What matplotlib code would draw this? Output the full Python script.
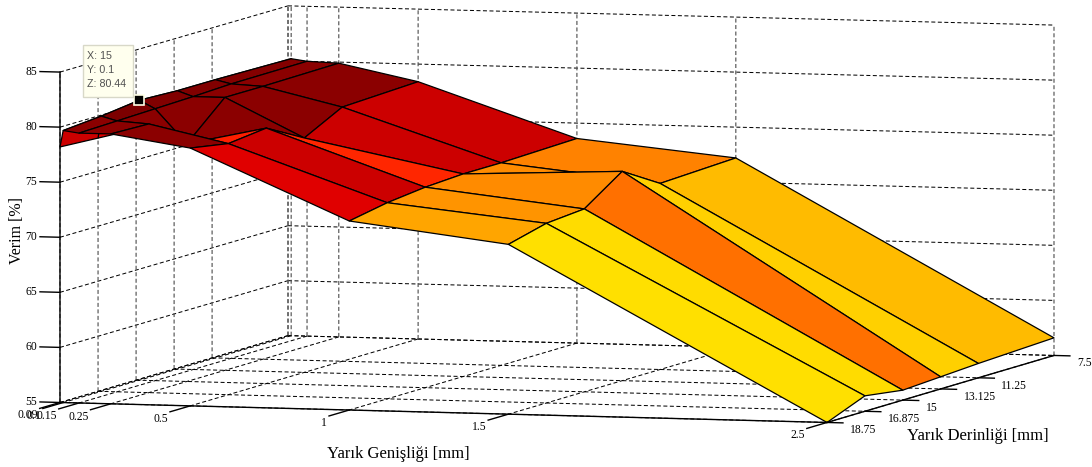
#Verim surface, Yarik Genisligi vs Yarik Derinligi
import numpy as np
import matplotlib
matplotlib.use('Agg')
import matplotlib.pyplot as plt
from matplotlib.colors import LinearSegmentedColormap
from matplotlib.patches import Rectangle

W, H = 1092, 467

derinlik = [7.5, 11.25, 13.125, 15, 16.875, 18.75] #x axis
genislik = [0.09, 0.1, 0.15, 0.25, 0.5, 1, 1.5, 2.5] #y axis
z_ticks = [55, 60, 65, 70, 75, 80, 85]
derinlik_labels = ['7.5', '11.25', '13.125', '15', '16.875', '18.75']
genislik_labels = ['0.09', '0.1', '0.15', '0.25', '0.5', '1', '1.5', '2.5']

#rows follow genislik, columns follow derinlik
verim = np.array([
    [77.4, 77.6, 77.7, 77.8, 78.0, 78.2],
    [80.2, 80.3, 80.3, 80.44, 80.0, 79.7],
    [80.0, 79.95, 79.8, 79.7, 79.6, 79.5],
    [79.9, 79.8, 79.8, 76.6, 79.4, 79.5],
    [78.4, 78.1, 76.3, 78.2, 77.8, 78.4],
    [73.6, 73.4, 73.4, 73.2, 72.8, 72.15],
    [72.2, 71.9, 74.0, 71.6, 71.3, 70.4],
    [56.6, 56.3, 56.1, 55.9, 56.4, 55.0],
])

#colour stops of the surface (verim value, colour)
cmap_z = [71.2, 71.6, 71.9, 72.2, 72.8, 73.3, 74.0, 76.5, 77.8, 78.0, 78.5, 79.2, 80.0, 80.5]
cmap_c = ['#FFE200', '#FFDC00', '#FFD000', '#FFBB00', '#FFA500', '#FF9000', '#FF7000',
          '#FF2000', '#E00000', '#CC0000', '#CC0000', '#8B0000', '#8B0000', '#7A0000']

x0, x1 = derinlik[0], derinlik[-1]
y0, y1 = genislik[0], genislik[-1]
z0, z1 = z_ticks[0], z_ticks[-1]

#box corners and where they sit in the picture, used to fit the camera
world = [(x1, y0, z0), (x0, y0, z0), (x0, y1, z0), (x1, y1, z0),
         (x1, y0, z1), (x0, y0, z1), (x0, y1, z1)]
pixel = [(60, 403), (288, 335), (1054, 356), (827, 422),
         (60, 72), (288, 6), (1054, 25)]

def fit_camera(world, pixel):
    '''3x4 projection matrix from point pairs (least squares, last entry 1).'''
    A, b = [], []
    for (x, y, z), (u, v) in zip(world, pixel):
        A.append([x, y, z, 1, 0, 0, 0, 0, -u*x, -u*y, -u*z])
        A.append([0, 0, 0, 0, x, y, z, 1, -v*x, -v*y, -v*z])
        b += [u, v]
    p = np.linalg.lstsq(np.array(A, float), np.array(b, float), rcond=None)[0]
    return np.append(p, 1).reshape(3, 4)

P = fit_camera(world, pixel)

def project(x, y, z):
    u, v, w = P @ [x, y, z, 1]
    return u/w, v/w

def fx(px): return px / W
def fy(py): return 1 - py / H

plt.rcParams['font.family'] = ['Liberation Serif', 'DejaVu Serif']
fig = plt.figure(figsize=(W/100, H/100), dpi=100)
ax = fig.add_axes([0, 0, 1, 1], projection='3d')
ax.set_axis_off()
ax.computed_zorder = False

grid = dict(color='black', lw=0.72, ls=(0, (4, 2.5)), zorder=1)
grid_v = dict(color='#555555', lw=0.85, ls=(0, (3.4, 2.1)), zorder=1) #verticals look greyer
solid = dict(color='black', lw=1.0, zorder=3)

for z in z_ticks:
    ax.plot([x1, x0], [y0, y0], [z, z], **grid) #left wall
    ax.plot([x0, x0], [y0, y1], [z, z], **grid) #back wall
for x in derinlik:
    ax.plot([x, x], [y0, y0], [z0, z1], **grid_v)
    ax.plot([x, x], [y0, y1], [z0, z0], **grid)
for y in genislik:
    ax.plot([x0, x0], [y, y], [z0, z1], **grid_v)
    ax.plot([x0, x1], [y, y], [z0, z0], **grid)

XX, YY = np.meshgrid(derinlik, genislik)
stops = (np.array(cmap_z) - cmap_z[0]) / (cmap_z[-1] - cmap_z[0])
cmap = LinearSegmentedColormap.from_list('verim', list(zip(stops, cmap_c)), N=1024)
face = cmap((verim - cmap_z[0]) / (cmap_z[-1] - cmap_z[0]))
surf = ax.plot_surface(XX, YY, verim, facecolors=face, shade=False,
                       rstride=1, cstride=1, zorder=2)
surf.set_edgecolor('black')
surf.set_linewidth(0.9)

#axis lines and ticks, labels go on the figure at the projected tick position
ax.plot([x1, x1], [y0, y0], [z0, z1], **solid)
ax.plot([x1, x1], [y0, y1], [z0, z0], **solid)
ax.plot([x1, x0], [y1, y1], [z0, z0], **solid)
for z in z_ticks:
    ax.plot([x1, x1], [y0, y0 - 0.063], [z, z], **solid)
    u, v = project(x1, y0, z)
    fig.text(fx(u - 23), fy(v), str(z), ha='right', va='center', fontsize=8.4)
for y, lab in zip(genislik, genislik_labels):
    ax.plot([x1, x1 + 1.0], [y, y], [z0, z0], **solid)
    u, v = project(x1, y, z0)
    fig.text(fx(u - 22), fy(v + 13), lab, ha='right', va='center', fontsize=8.4)
for x, lab in zip(derinlik, derinlik_labels):
    ax.plot([x, x], [y1, y1 + 0.05], [z0, z0], **solid)
    u, v = project(x, y1, z0)
    fig.text(fx(u + 23), fy(v + 8), lab, ha='left', va='center', fontsize=8.4)

#data tip marker
ax.plot([15], [0.1], [80.44], 's', ms=6.6, mfc='black', mec='#FFFFE6', mew=1.2, zorder=5)

#camera: picture pixels -> the 2D coordinates of the axes
to_display = np.array([[1, 0, 0], [0, -1, H], [0, 0, 1]], float)
A = ax.transData.inverted().get_matrix() @ to_display @ P
#depth only orders the faces (far = larger); lines get dropped if it is not negative
dx, dy, dz = 0.2/(x1 - x0), 0.2/(y1 - y0), 0.06/(z1 - z0)
depth = [-dx, -dy, -dz, -0.4 + dx*x0 + dy*y0 + dz*z0]
M = np.array([A[0], A[1], depth, A[2]])
ax.get_proj = lambda: M
ax.apply_aspect = lambda position=None: None

fig.text(fx(398), fy(454), 'Yarık Genişliği [mm]', fontsize=12, ha='center', va='center')
fig.text(fx(978), fy(436), 'Yarık Derinliği [mm]', fontsize=12, ha='center', va='center')
fig.text(fx(17), fy(231), 'Verim [%]', fontsize=11.5, rotation=90, ha='center', va='center')

fig.add_artist(Rectangle((fx(83), fy(96.5)), 50/W, 52/H, transform=fig.transFigure,
                         fc='#FFFFEE', ec='#D8D8C8', lw=1, zorder=10))
for py, s in zip([56, 70, 84], ['X: 15', 'Y: 0.1', 'Z: 80.44']):
    fig.text(fx(87), fy(py), s, family='Liberation Sans', fontsize=7.7, color='#505050',
             ha='left', va='center', zorder=11)

fig.savefig('out.png', dpi=100)
